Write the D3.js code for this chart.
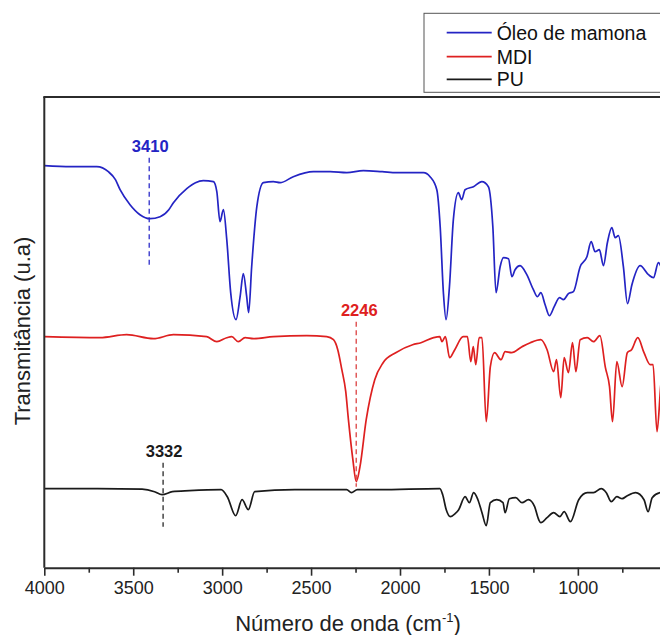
<!DOCTYPE html>
<html><head><meta charset="utf-8">
<script src="https://cdn.jsdelivr.net/npm/d3@7"></script>
<style>
html,body{margin:0;padding:0;background:#fff;}
svg{display:block;font-family:Arial,"Liberation Sans",sans-serif;}
</style></head>
<body>
<svg id="chart" width="660" height="635"></svg>
<script>
// Wavenumber (cm-1) and transmittance (arbitrary units, offset per curve)
const oleoWn = [4000,3850,3705,3640,3600,3574,3518,3462,3406,3349,3300,3274,3199,3150,3106,3049,3030,3012,2993,2974,2952,2922,2899,2881,2862,2851,2834,2805,2768,2712,2674,2600,2487,2393,2299,2206,2100,2018,1868,1831,1793,1774,1756,1741,1722,1700,1672,1653,1634,1587,1540,1503,1478,1460,1437,1418,1390,1371,1353,1325,1287,1250,1227,1208,1184,1160,1133,1103,1081,1053,1025,987,949,925,903,879,856,834,809,790,772,744,721,696,650,603,575,547,520,480,400];
const oleoT  = [402,401,401,396,388,378,363,353,349,351,358,365,379,385,387,386,376,346,358,328,275,248,271,294,271,255,301,361,385,386,385,391,396,396,395,397,396,395,395,391,378,341,275,248,281,348,375,368,378,381,386,381,341,275,301,310,309,291,298,302,293,278,271,275,263,252,261,270,268,274,276,301,311,326,316,318,302,325,340,330,332,301,264,283,302,293,290,305,298,300,298];

const mdiWn = [4000,3687,3537,3387,3274,3087,3030,2974,2946,2909,2871,2824,2712,2524,2412,2374,2350,2327,2305,2290,2265,2246,2225,2190,2142,2095,2024,1929,1882,1811,1776,1764,1745,1721,1692,1645,1621,1602,1588,1574,1555,1539,1515,1492,1468,1432,1409,1373,1314,1267,1208,1173,1136,1120,1096,1077,1053,1030,1011,987,947,912,876,845,822,805,781,751,722,698,663,628,593,577,555,530,480,400];
const mdiT  = [231,230,233,229,233,231,226,230,231,226,230,229,231,232,231,228,218,198,176,148,108,86,101,148,188,205,215,223,225,230,231,226,231,210,218,231,231,206,221,203,230,230,146,201,215,208,216,215,221,225,228,218,196,208,170,210,195,225,196,228,230,226,232,200,181,146,206,181,215,218,230,215,203,203,136,188,208,218];

const puWn = [4000,3700,3450,3380,3338,3280,3184,3006,2971,2924,2888,2853,2817,2592,2300,2273,2240,2119,1776,1760,1740,1717,1690,1670,1634,1610,1586,1562,1539,1515,1492,1456,1421,1409,1385,1349,1314,1278,1243,1220,1208,1173,1136,1101,1077,1042,995,947,912,869,840,812,781,751,722,675,628,605,582,537,480,400];
const puT  = [79,79,78.5,76,73,76,77,78,71,52,68,58,76,78,78,75,78,78,79,73,58,51,54,58,71,65,75,68,55,42,65,68,65,55,69,70,65,68,61,48,45,50,55,51,56,46,68,75,75,79,75,66,71,69,72,75,68,56,70,75,76,76];

const seriesNames  = ["Óleo de mamona","MDI","PU"];
const seriesColors = ["#2424c4","#de2020","#1a1a1a"];

const xTicksMajor = [4000,3500,3000,2500,2000,1500,1000];
const xTicksMinor = [3750,3250,2750,2250,1750,1250,750];

// peak annotations: wavenumber, label, series index, dashed line top/bottom (a.u.)
const peakWn    = [3410, 2246, 3332];
const peakLabel = ["3410","2246","3332"];
const peakSeries= [0,1,2];
const peakTop   = [410, 246, 105];
const peakBot   = [302, 81, 41];

const svg = d3.select("#chart");
const L = 44.3, T = 97, B = 567.7;
const x = d3.scaleLinear().domain([4000, 400]).range([L, L + 3600*0.17785]);
const y = d3.scaleLinear().domain([0, 470.7]).range([B, T]);

svg.append("defs").append("clipPath").attr("id","plotclip")
  .append("rect").attr("x",L).attr("y",T).attr("width",700).attr("height",B-T);

const data = [
  oleoWn.map((w,i)=>({w, t:oleoT[i]})),
  mdiWn.map((w,i)=>({w, t:mdiT[i]})),
  puWn.map((w,i)=>({w, t:puT[i]}))
];
const line = d3.line().x(d=>x(d.w)).y(d=>y(d.t)).curve(d3.curveMonotoneX);

const gPlot = svg.append("g").attr("clip-path","url(#plotclip)");

const dashColors = ["#4a4ad0","#e05a5a","#444"];
peakWn.forEach((w,i)=>{
  gPlot.append("line")
    .attr("x1",x(w)).attr("x2",x(w))
    .attr("y1",y(peakTop[i])).attr("y2",y(peakBot[i]))
    .attr("stroke",dashColors[peakSeries[i]]).attr("stroke-width",1.5)
    .attr("stroke-dasharray","5,3.5");
});

data.forEach((d,i)=>{
  gPlot.append("path").datum(d).attr("d",line)
    .attr("fill","none").attr("stroke",seriesColors[i]).attr("stroke-width",1.7)
    .attr("stroke-linejoin","round");
});

peakWn.forEach((w,i)=>{
  svg.append("text")
    .attr("x", x(w) + (i===1?3:1)).attr("y", y(peakTop[i]) - 6)
    .attr("text-anchor","middle")
    .attr("font-size",16.5).attr("font-weight","bold")
    .attr("fill", seriesColors[peakSeries[i]])
    .text(peakLabel[i]);
});

const frameColor = "#2b2b2b";
svg.append("line").attr("x1",L).attr("x2",L).attr("y1",T).attr("y2",B)
  .attr("stroke",frameColor).attr("stroke-width",2);
svg.append("line").attr("x1",L-1).attr("x2",700).attr("y1",T).attr("y2",T)
  .attr("stroke",frameColor).attr("stroke-width",2);

const axisMajor = d3.axisBottom(x).tickValues(xTicksMajor).tickSize(8).tickSizeOuter(0)
  .tickPadding(6).tickFormat(d3.format("d"));
const gx = svg.append("g").attr("transform",`translate(0,${B})`).call(axisMajor);
gx.select(".domain").attr("stroke",frameColor).attr("stroke-width",2);
gx.selectAll(".tick line").attr("stroke",frameColor).attr("stroke-width",1.6);
gx.selectAll(".tick text").attr("font-size",18).attr("fill","#222")
  .attr("font-family","Arial, 'Liberation Sans', sans-serif");
const axisMinor = d3.axisBottom(x).tickValues(xTicksMinor).tickSize(5).tickFormat("");
const gxm = svg.append("g").attr("transform",`translate(0,${B})`).call(axisMinor);
gxm.select(".domain").remove();
gxm.selectAll(".tick line").attr("stroke",frameColor).attr("stroke-width",1.6);

const xt = svg.append("text").attr("x",348).attr("y",631).attr("text-anchor","middle")
  .attr("font-size",22).attr("fill","#222");
xt.append("tspan").text("Número de onda (cm");
xt.append("tspan").attr("font-size",13).attr("dy",-9).text("-1");
xt.append("tspan").attr("dy",9).text(")");

svg.append("text").attr("transform","translate(29.5,331) rotate(-90)")
  .attr("text-anchor","middle").attr("font-size",22).attr("fill","#222")
  .text("Transmitância (u.a)");

svg.append("rect").attr("x",424).attr("y",13.3).attr("width",240).attr("height",79)
  .attr("fill","#fff").attr("stroke","#555").attr("stroke-width",1);
const legY = [32.7, 56.7, 79.3];
seriesNames.forEach((n,i)=>{
  svg.append("line").attr("x1",446.7).attr("x2",491.7).attr("y1",legY[i]).attr("y2",legY[i])
    .attr("stroke",seriesColors[i]).attr("stroke-width",1.7);
  svg.append("text").attr("x",496.7).attr("y",legY[i]+7)
    .attr("font-size",19.5).attr("fill","#111").text(n);
});
</script>
</body></html>
